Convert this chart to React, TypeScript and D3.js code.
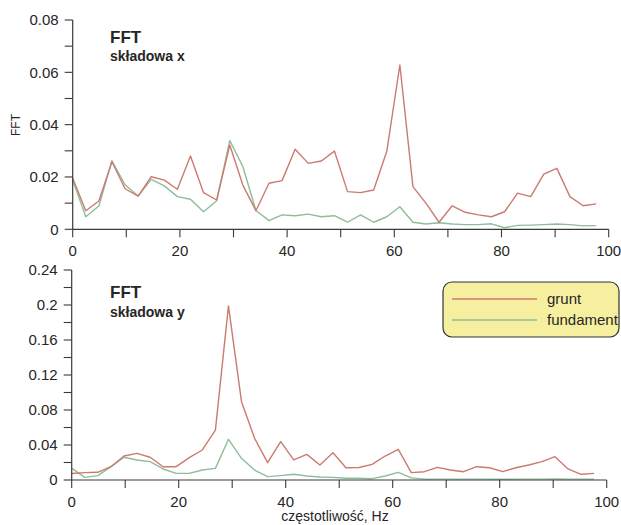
import React from "react";
import * as d3 from "d3";

const freq = [0, 2.44, 4.88, 7.32, 9.77, 12.21, 14.65, 17.09, 19.53, 21.97, 24.41, 26.86, 29.3, 31.74, 34.18, 36.62, 39.06, 41.5, 43.95, 46.39, 48.83, 51.27, 53.71, 56.15, 58.59, 61.04, 63.48, 65.92, 68.36, 70.8, 73.24, 75.68, 78.13, 80.57, 83.01, 85.45, 87.89, 90.33, 92.77, 95.21, 97.66];

const xGrunt = [0.0195, 0.0071, 0.0108, 0.0258, 0.0155, 0.0127, 0.0201, 0.0188, 0.0153, 0.028, 0.014, 0.0112, 0.0322, 0.0169, 0.0071, 0.0176, 0.0186, 0.0306, 0.0252, 0.0261, 0.0299, 0.0144, 0.014, 0.015, 0.0297, 0.0628, 0.0163, 0.0099, 0.0027, 0.009, 0.0065, 0.0055, 0.0048, 0.0067, 0.0138, 0.0125, 0.0211, 0.0233, 0.0125, 0.009, 0.0097];
const xFundament = [0.0188, 0.0048, 0.0089, 0.0262, 0.017, 0.0127, 0.0191, 0.0166, 0.0125, 0.0115, 0.0067, 0.0109, 0.0339, 0.024, 0.0072, 0.0033, 0.0055, 0.0052, 0.0058, 0.0048, 0.0052, 0.0027, 0.0055, 0.0027, 0.0048, 0.0086, 0.0027, 0.002, 0.0025, 0.002, 0.0018, 0.0018, 0.0021, 0.0006, 0.0015, 0.0016, 0.0018, 0.002, 0.0018, 0.0013, 0.0014];

const yGrunt = [0.0075, 0.0084, 0.0088, 0.0152, 0.0274, 0.0305, 0.026, 0.0152, 0.0152, 0.0255, 0.0343, 0.057, 0.199, 0.0895, 0.0476, 0.0198, 0.0438, 0.0229, 0.0293, 0.0171, 0.0312, 0.014, 0.0143, 0.0179, 0.0274, 0.0351, 0.0084, 0.0095, 0.0145, 0.0114, 0.0095, 0.0152, 0.014, 0.0095, 0.014, 0.0171, 0.021, 0.0267, 0.0126, 0.0065, 0.0076];
const yFundament = [0.0135, 0.003, 0.005, 0.015, 0.026, 0.0229, 0.021, 0.0126, 0.0076, 0.0076, 0.0114, 0.0133, 0.0465, 0.0248, 0.0114, 0.0038, 0.005, 0.0065, 0.0046, 0.0035, 0.003, 0.002, 0.002, 0.0015, 0.0046, 0.0088, 0.0024, 0.001, 0.001, 0.001, 0.001, 0.001, 0.001, 0.0008, 0.001, 0.001, 0.001, 0.0012, 0.001, 0.001, 0.001];

const xTickLabels = ["0", "20", "40", "60", "80", "100"];
const xTickValues = [0, 20, 40, 60, 80, 100];
const xMinorTicks = [0, 10, 20, 30, 40, 50, 60, 70, 80, 90, 100];
const topYTicks = [0, 0.02, 0.04, 0.06, 0.08];
const topYTickLabels = ["0", "0.02", "0.04", "0.06", "0.08"];
const topYMinor = [0, 0.01, 0.02, 0.03, 0.04, 0.05, 0.06, 0.07, 0.08];
const botYTicks = [0, 0.04, 0.08, 0.12, 0.16, 0.2, 0.24];
const botYTickLabels = ["0", "0.04", "0.08", "0.12", "0.16", "0.2", "0.24"];
const botYMinor = [0, 0.02, 0.04, 0.06, 0.08, 0.1, 0.12, 0.14, 0.16, 0.18, 0.2, 0.22, 0.24];

const seriesNames = ["grunt", "fundament"];
const RED = "#cc7a70";
const GREEN = "#8dbd9b";
const AXIS = "#3a3a3a";
const TEXT = "#262626";
const FONT = "Liberation Sans, Arial, sans-serif";

type PanelProps = {
  x: d3.ScaleLinear<number, number>;
  y: d3.ScaleLinear<number, number>;
  grunt: number[];
  fund: number[];
  yTicks: number[];
  yLabels: string[];
  yMinor: number[];
  title: string;
  sub: string;
  titleY: number;
  subY: number;
};

function Panel({ x, y, grunt, fund, yTicks, yLabels, yMinor, title, sub, titleY, subY }: PanelProps) {
  const line = (vals: number[]) =>
    d3.line<number>().x((_, i) => x(freq[i])).y((d) => y(d))(vals) || "";
  const x0 = x(0);
  const y0 = y(0);
  const yTop = y(y.domain()[1]);
  return (
    <g>
      <path d={line(fund)} fill="none" stroke={GREEN} strokeWidth={1.4} strokeLinejoin="round" />
      <path d={line(grunt)} fill="none" stroke={RED} strokeWidth={1.4} strokeLinejoin="round" />
      <line x1={x0} x2={x0} y1={yTop} y2={y0} stroke={AXIS} strokeWidth={1.2} />
      <line x1={x0} x2={x(100)} y1={y0} y2={y0} stroke={AXIS} strokeWidth={1.2} />
      {yMinor.map((v) => (
        <line key={"ym" + v} x1={x0 - 8} x2={x0} y1={y(v)} y2={y(v)} stroke={AXIS} strokeWidth={1.1} />
      ))}
      {yTicks.map((v, i) => (
        <text key={"yl" + v} x={x0 - 14} y={y(v)} dy="0.35em" textAnchor="end" fontSize={15} fill={TEXT} fontFamily={FONT}>
          {yLabels[i]}
        </text>
      ))}
      {xMinorTicks.map((v) => (
        <line key={"xm" + v} x1={x(v)} x2={x(v)} y1={y0} y2={y0 + 8} stroke={AXIS} strokeWidth={1.1} />
      ))}
      {xTickValues.map((v, i) => (
        <text key={"xl" + v} x={x(v)} y={y0 + 27} textAnchor="middle" fontSize={15} fill={TEXT} fontFamily={FONT}>
          {xTickLabels[i]}
        </text>
      ))}
      <text x={110} y={titleY} fontSize={17} fontWeight="bold" fill={TEXT} fontFamily={FONT}>
        {title}
      </text>
      <text x={110} y={subY} fontSize={14} fontWeight="bold" fill={TEXT} fontFamily={FONT}>
        {sub}
      </text>
    </g>
  );
}

export default function App() {
  const xTop = d3.scaleLinear().domain([0, 100]).range([72.7, 608.7]);
  const yTop = d3.scaleLinear().domain([0, 0.08]).range([229.3, 20]);
  const xBot = d3.scaleLinear().domain([0, 100]).range([71.7, 606.7]);
  const yBot = d3.scaleLinear().domain([0, 0.24]).range([480, 270]);

  return (
    <svg
      width={621}
      height={525}
      style={{ position: "absolute", left: 0, top: 0, background: "#fff" }}
      fontFamily={FONT}
    >
      <rect x={0} y={0} width={621} height={525} fill="#fff" />
      <Panel x={xTop} y={yTop} grunt={xGrunt} fund={xFundament} yTicks={topYTicks} yLabels={topYTickLabels} yMinor={topYMinor} title="FFT" sub="składowa x" titleY={43} subY={61} />
      <Panel x={xBot} y={yBot} grunt={yGrunt} fund={yFundament} yTicks={botYTicks} yLabels={botYTickLabels} yMinor={botYMinor} title="FFT" sub="składowa y" titleY={298} subY={317} />
      <text transform="translate(20,125) rotate(-90)" textAnchor="middle" fontSize={12} fill={TEXT}>
        FFT
      </text>
      <text x={335} y={521} textAnchor="middle" fontSize={14} fill={TEXT}>
        częstotliwość, Hz
      </text>
      <g>
        <rect x={443} y={282} width={176} height={55} rx={9} fill="#f6ef9f" stroke="#333" strokeWidth={1.2} />
        <line x1={452} x2={537} y1={299} y2={299} stroke={RED} strokeWidth={1.4} />
        <line x1={452} x2={537} y1={320} y2={320} stroke={GREEN} strokeWidth={1.4} />
        <text x={547} y={304} fontSize={15} fill={TEXT}>{seriesNames[0]}</text>
        <text x={547} y={325} fontSize={15} fill={TEXT}>{seriesNames[1]}</text>
      </g>
    </svg>
  );
}
